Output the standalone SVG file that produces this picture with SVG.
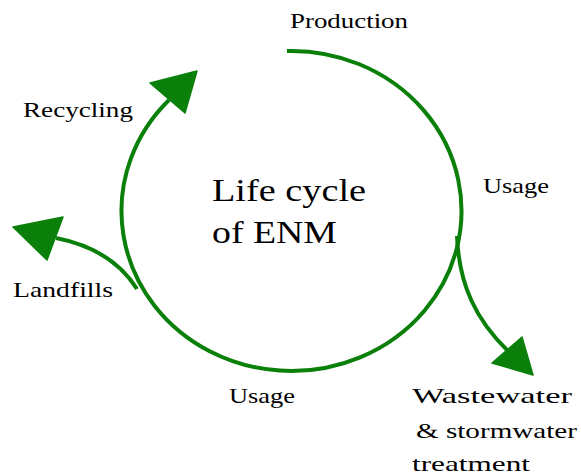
<svg xmlns="http://www.w3.org/2000/svg" width="581" height="475" viewBox="0 0 581 475">
<style>
text{font-family:'Liberation Serif','Times New Roman',serif;fill:#000}
.lbl{font-size:21px}
.big{font-size:32px}
.con{fill:none;stroke:#0a800a;stroke-width:4}
.head{fill:#0a800a;stroke:#0a800a;stroke-width:1.5;stroke-linejoin:round}
</style>
<rect width="581" height="475" fill="#fff"/>
<g id="connectors">
<path class="con" d="M 287 51 A 170 160 0 1 1 169 100"/>
<polygon class="head" points="150,83 197,71 185,113"/>
<path class="con" d="M 457 236 C 459 285, 476 320, 508 351"/>
<polygon class="head" points="492,363 522,337 533,375"/>
<path class="con" d="M 137 289 C 120 262, 92 245, 56 238"/>
<polygon class="head" points="13,227 63,217 47,260"/>
</g>
<g id="center"><text class="big" x="212" y="201" textLength="154" lengthAdjust="spacingAndGlyphs">Life cycle</text><text class="big" x="212" y="243" textLength="125" lengthAdjust="spacingAndGlyphs">of ENM</text></g>
<g id="production"><text class="lbl" x="290" y="28" textLength="118" lengthAdjust="spacingAndGlyphs">Production</text></g>
<g id="recycling"><text class="lbl" x="23" y="117" textLength="110" lengthAdjust="spacingAndGlyphs">Recycling</text></g>
<g id="usage-right"><text class="lbl" x="483" y="193" textLength="66" lengthAdjust="spacingAndGlyphs">Usage</text></g>
<g id="landfills"><text class="lbl" x="13" y="297" textLength="100" lengthAdjust="spacingAndGlyphs">Landfills</text></g>
<g id="usage-bottom"><text class="lbl" x="229" y="403" textLength="66" lengthAdjust="spacingAndGlyphs">Usage</text></g>
<g id="wastewater"><text class="lbl" x="412" y="403" textLength="160" lengthAdjust="spacingAndGlyphs">Wastewater</text><text class="lbl" x="416" y="438" textLength="161" lengthAdjust="spacingAndGlyphs">&amp; stormwater</text><text class="lbl" x="412" y="471" textLength="118" lengthAdjust="spacingAndGlyphs">treatment</text></g>
</svg>
